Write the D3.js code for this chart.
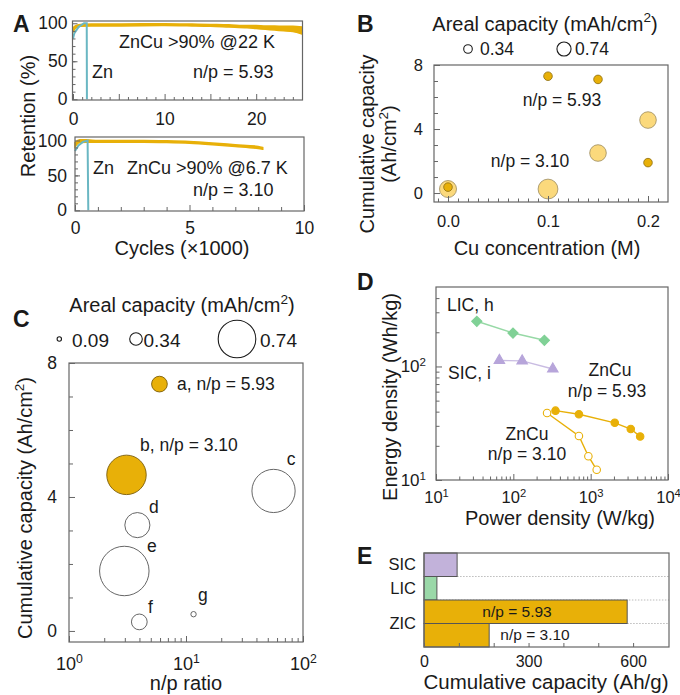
<!DOCTYPE html>
<html>
<head>
<meta charset="utf-8">
<script src="https://cdn.jsdelivr.net/npm/d3@7"></script>
<style>
  body { margin: 0; background: #fff; }
</style>
</head>
<body>
<script>
// ---------- data ----------
// A, top (n/p = 5.93): cycles in thousands, retention in %
const aTopZnCuCycles = [0, 0.3, 0.8, 2, 5, 10, 13, 15, 17, 19, 20, 21, 22, 23, 24, 25];
const aTopZnCuHigh   = [94, 97, 98.5, 99, 99, 99.5, 99, 98.5, 98, 97, 97, 96.5, 96.5, 96, 96, 95];
const aTopZnCuLow    = [88, 94, 96, 96.5, 96.5, 97, 96.5, 96, 95, 94, 93, 92, 91, 90, 89, 86];
const aTopZnCycles   = [0, 0.15, 0.6, 1.2, 1.5, 1.52];
const aTopZnRet      = [80, 87, 95, 100, 100, 0];
// A, bottom (n/p = 3.10)
const aBotZnCuCycles = [0, 0.2, 0.5, 1, 2, 3, 4, 5, 6, 7, 8, 8.2];
const aBotZnCuHigh   = [97, 101, 101, 100, 100, 100, 99.5, 98.5, 96.5, 94, 91.5, 90];
const aBotZnCuLow    = [91, 97, 97.5, 97.5, 97.5, 97.5, 97, 96, 94, 91.5, 88.5, 87.5];
const aBotZnCycles   = [0, 0.15, 0.35, 0.55, 0.58];
const aBotZnRet      = [85, 93, 98, 100, 0];

// B: Cu concentration (M), cumulative capacity (Ah/cm2), areal capacity (mAh/cm2)
const bConc   = [0, 0.1, 0.15, 0.2, 0, 0.1, 0.15, 0.2];
const bCum    = [0.25, 0.25, 2.5, 4.56, 0.37, 7.3, 7.1, 1.9];
const bAreal  = [0.76, 0.9, 0.74, 0.74, 0.34, 0.34, 0.34, 0.34];
const bGroup  = ["3.10", "3.10", "3.10", "3.10", "5.93", "5.93", "5.93", "5.93"];
const bLegend = [0.34, 0.74];

// C: n/p ratio, cumulative capacity, areal capacity
const cNp     = [5.93, 3.10, 56, 3.84, 2.97, 3.99, 11.6];
const cCum    = [7.37, 4.66, 4.18, 3.16, 1.79, 0.27, 0.5];
const cAreal  = [0.39, 0.77, 0.83, 0.54, 0.93, 0.39, 0.12];
const cFilled = [true, true, false, false, false, false, false];
const cLegend = [0.09, 0.34, 0.74];

// D: Ragone plot, power (W/kg) vs energy (Wh/kg)
const licPower = [33.7, 99, 252];
const licEnergy = [250, 197, 170];
const sicPower = [66, 130, 324];
const sicEnergy = [113, 112, 95];
const zn593Power = [351, 705, 2050, 3300, 4365];
const zn593Energy = [40.8, 37.9, 31.9, 28.1, 24.2];
const zn310Power = [273, 705, 934, 1197];
const zn310Energy = [38.9, 24.4, 16.2, 12.3];

// E: cumulative capacity (Ah/g)
const eBars = ["SIC", "LIC", "ZIC 5.93", "ZIC 3.10"];
const eValues = [95, 37, 583, 187];
const eTickLabels = ["SIC", "LIC", "ZIC"];

// ---------- setup ----------
const FONT = '"Liberation Sans", Arial, Helvetica, sans-serif';
const INK = "#1a1a1a";
const GOLD = "#e8b008";
const LIGHTGOLD = "#fbd97c";

const svg = d3.select("body").append("svg")
    .attr("width", 680)
    .attr("height", 695)
    .style("font-family", FONT);
svg.append("rect").attr("width", 680).attr("height", 695).attr("fill", "#fff");

// text with ^x superscripts
function txt(x, y, s, o = {}) {
    const fs = o.fs || 18;
    const t = svg.append("text")
        .attr("x", x).attr("y", y)
        .attr("font-size", fs)
        .attr("fill", INK)
        .attr("text-anchor", o.anchor || "start")
        .attr("font-weight", o.bold ? "bold" : null);
    if (o.rot) t.attr("transform", `rotate(-90,${x},${y})`);
    let shift = 0;
    s.split(/(\^\w)/).forEach(p => {
        if (!p) return;
        if (p.startsWith("^")) {
            t.append("tspan").attr("dy", -0.42 * fs).attr("font-size", fs * 0.68).text(p.slice(1));
            shift = 0.42 * fs;
        } else {
            t.append("tspan").attr("dy", shift || null).text(p);
            shift = 0;
        }
    });
    return t;
}

function frame(x0, y0, x1, y1) {
    svg.append("rect")
        .attr("x", x0).attr("y", y0)
        .attr("width", x1 - x0).attr("height", y1 - y0)
        .attr("fill", "none").attr("stroke", "#666").attr("stroke-width", 1.2);
}

// inward ticks
function ticks(axisFn, scale, values, len, fmt, pad, tx, ty, fs) {
    const ax = axisFn(scale)
        .tickValues(values)
        .tickSizeInner(-len)
        .tickSizeOuter(0)
        .tickPadding(pad)
        .tickFormat(fmt || (() => ""));
    const g = svg.append("g").attr("transform", `translate(${tx},${ty})`).call(ax);
    g.select(".domain").remove();
    g.selectAll("line").attr("stroke", "#666");
    if (fmt) {
        g.selectAll("text").attr("font-size", fs || 16).attr("fill", INK).attr("font-family", FONT);
    } else {
        g.selectAll("text").remove();
    }
    return g;
}

function supTicks(g) {
    g.selectAll(".tick text").each(function (d) {
        const t = d3.select(this).text("");
        t.append("tspan").text("10");
        t.append("tspan").attr("dy", "-0.55em").attr("font-size", "0.68em").text(Math.round(Math.log10(d)));
    });
}

const range = (a, b, s) => d3.range(a, b + s / 2, s);

// ---------- panel A ----------
function drawRetention(x, y, box, zn, znCu) {
    const area = d3.area()
        .x((d, i) => x(znCu.c[i]))
        .y0((d, i) => y(znCu.lo[i]))
        .y1((d, i) => y(znCu.hi[i]))
        .curve(d3.curveMonotoneX);
    svg.append("path").datum(znCu.c).attr("d", area)
        .attr("fill", GOLD).attr("stroke", GOLD).attr("stroke-width", 1.5);
    const line = d3.line()
        .x((d, i) => x(zn.c[i]))
        .y((d, i) => y(zn.r[i]));
    svg.append("path").datum(zn.c).attr("d", line)
        .attr("fill", "none").attr("stroke", "#6ab7c3").attr("stroke-width", 2);
    frame(box[0], box[1], box[2], box[3]);
}

const xA1 = d3.scaleLinear([0, 25], [73, 302]);
const yA1 = d3.scaleLinear([-1, 103], [100, 21]);
drawRetention(xA1, yA1, [72.5, 21, 302.5, 100],
    { c: aTopZnCycles, r: aTopZnRet },
    { c: aTopZnCuCycles, hi: aTopZnCuHigh, lo: aTopZnCuLow });
ticks(d3.axisLeft, yA1, [0, 50, 100], 5, d3.format("d"), 5, 72.5, 0, 17.5);
ticks(d3.axisLeft, yA1, range(10, 90, 10), 3, null, 0, 72.5, 0);
ticks(d3.axisBottom, xA1, [0, 10, 20], 6, d3.format("d"), 13, 0, 100, 17.5);
ticks(d3.axisBottom, xA1, [5, 15], 6, null, 0, 0, 100);
ticks(d3.axisBottom, xA1, range(1, 24, 1).filter(v => v % 5), 3, null, 0, 0, 100);

const xA2 = d3.scaleLinear([0, 10], [75, 304]);
const yA2 = d3.scaleLinear([-1, 105], [211, 137]);
drawRetention(xA2, yA2, [75, 137, 304, 211],
    { c: aBotZnCycles, r: aBotZnRet },
    { c: aBotZnCuCycles, hi: aBotZnCuHigh, lo: aBotZnCuLow });
ticks(d3.axisLeft, yA2, [0, 50, 100], 5, d3.format("d"), 8, 75, 0, 17.5);
ticks(d3.axisLeft, yA2, range(10, 90, 10), 3, null, 0, 75, 0);
ticks(d3.axisBottom, xA2, [0, 5, 10], 6, d3.format("d"), 11, 0, 211, 17.5);
ticks(d3.axisBottom, xA2, [1, 2, 3, 4, 6, 7, 8, 9], 4, null, 0, 0, 211);

txt(13, 32, "A", { fs: 23, bold: true });
txt(197, 48, "ZnCu >90% @22 K", { anchor: "middle" });
txt(92, 78, "Zn");
txt(193, 78, "n/p = 5.93");
txt(93, 174, "Zn");
txt(127, 174, "ZnCu >90% @6.7 K");
txt(193, 196, "n/p = 3.10");
txt(35, 116, "Retention (%)", { fs: 20, anchor: "middle", rot: true });
txt(182, 255, "Cycles (\u00d71000)", { fs: 20, anchor: "middle" });

// ---------- panel B ----------
const xB = d3.scaleLinear([-0.014, 0.22], [434, 668]);
const yB = d3.scaleLinear([-0.56, 8], [202, 65]);
const rB = d3.scaleLinear([0.34, 0.74], [4.3, 8.3]);

const bIdx = d3.range(bConc.length);
svg.append("g").selectAll("circle")
    .data(bIdx.filter(i => bGroup[i] === "3.10").concat(bIdx.filter(i => bGroup[i] === "5.93")))
    .join("circle")
    .attr("cx", i => xB(bConc[i]))
    .attr("cy", i => yB(bCum[i]))
    .attr("r", i => rB(bAreal[i]))
    .attr("fill", i => bGroup[i] === "5.93" ? GOLD : LIGHTGOLD)
    .attr("stroke", i => bGroup[i] === "5.93" ? "#8c6d12" : "#9c8a5c")
    .attr("stroke-width", 0.8);
frame(434, 65, 668, 202);
ticks(d3.axisLeft, yB, [0, 4, 8], 6, d3.format("d"), 11, 434, 0, 16.5);
ticks(d3.axisLeft, yB, [1, 2, 3, 5, 6, 7], 4, null, 0, 434, 0);
ticks(d3.axisBottom, xB, [0, 0.1, 0.2], 6, d3.format(".1f"), 13.5, 0, 202, 16.5);
ticks(d3.axisBottom, xB, range(-0.01, 0.21, 0.01).filter(v => Math.abs(v * 10 - Math.round(v * 10)) > 1e-6), 3.5, null, 0, 0, 202);

txt(357, 32, "B", { fs: 23, bold: true });
txt(545, 30.5, "Areal capacity (mAh/cm^2)", { fs: 20, anchor: "middle" });
const bLegX = [468, 564];
const bLegTx = [480, 575];
bLegend.forEach((v, i) => {
    svg.append("circle").attr("cx", bLegX[i]).attr("cy", 49).attr("r", rB(v) * (i ? 0.85 : 1))
        .attr("fill", "none").attr("stroke", INK).attr("stroke-width", 1.1);
    txt(bLegTx[i], 55, v.toFixed(2), { fs: 17.5 });
});
txt(562, 106, "n/p = 5.93", { fs: 17.5, anchor: "middle" });
txt(530, 166.5, "n/p = 3.10", { fs: 17.5, anchor: "middle" });
txt(374, 144, "Cumulative capacity", { fs: 20, anchor: "middle", rot: true });
txt(396, 144, "(Ah/cm^2)", { fs: 20, anchor: "middle", rot: true });
txt(547, 255, "Cu concentration (M)", { fs: 20, anchor: "middle" });

// ---------- panel C ----------
const xC = d3.scaleLog([1, 100], [69, 303]);
const yC = d3.scaleLinear([-0.33, 8], [642, 363]);
const rC = d3.scaleLinear([0.09, 0.34, 0.74], [2.2, 6.3, 18.8]);

svg.append("g").selectAll("circle")
    .data(d3.range(cNp.length))
    .join("circle")
    .attr("cx", i => xC(cNp[i]))
    .attr("cy", i => yC(cCum[i]))
    .attr("r", i => rC(cAreal[i]))
    .attr("fill", i => cFilled[i] ? GOLD : "none")
    .attr("stroke", i => cFilled[i] ? "#7a5c08" : "#555")
    .attr("stroke-width", 0.9);
frame(69, 363, 303, 642);
ticks(d3.axisLeft, yC, [0, 4, 8], 6, d3.format("d"), 12, 69, 0, 17.5);
ticks(d3.axisLeft, yC, [1, 2, 3, 5, 6, 7], 4, null, 0, 69, 0);
supTicks(ticks(d3.axisBottom, xC, [1, 10, 100], 6, () => "x", 15, 0, 642, 18));
ticks(d3.axisBottom, xC, [2, 3, 4, 5, 6, 7, 8, 9, 20, 30, 40, 50, 60, 70, 80, 90], 4, null, 0, 0, 642);

txt(13, 327, "C", { fs: 23, bold: true });
txt(182, 312, "Areal capacity (mAh/cm^2)", { fs: 20, anchor: "middle" });
const cLegX = [59.3, 136, 237];
const cLegTx = [72, 143.5, 260];
cLegend.forEach((v, i) => {
    svg.append("circle").attr("cx", cLegX[i]).attr("cy", 339).attr("r", rC(v))
        .attr("fill", "none").attr("stroke", INK).attr("stroke-width", 1.1);
    txt(cLegTx[i], 347, v.toFixed(2), { fs: 19 });
});
txt(177, 390, "a, n/p = 5.93", { fs: 17.5 });
txt(140, 451, "b, n/p = 3.10", { fs: 17.5 });
txt(291, 465, "c", { fs: 17.5, anchor: "middle" });
txt(149, 513, "d", { fs: 17.5 });
txt(147, 552, "e", { fs: 17.5 });
txt(148, 613, "f", { fs: 17.5 });
txt(198, 601, "g", { fs: 17.5 });
txt(32, 508, "Cumulative capacity (Ah/cm^2)", { fs: 20, anchor: "middle", rot: true });
txt(186, 690, "n/p ratio", { fs: 20, anchor: "middle" });

// ---------- panel D ----------
const xD = d3.scaleLog([10, 1e4], [436, 668]);
const yD = d3.scaleLog([10, 501], [480, 287]);

function series(px, py, lineColor, sym, fill, stroke) {
    const pts = px.map((p, i) => [xD(p), yD(py[i])]);
    svg.append("path").attr("d", d3.line()(pts))
        .attr("fill", "none").attr("stroke", lineColor).attr("stroke-width", 1.4);
    svg.append("g").selectAll("path").data(pts).join("path")
        .attr("transform", d => `translate(${d[0]},${d[1]})${sym.rot ? " rotate(45)" : ""}`)
        .attr("d", d3.symbol(sym.type, sym.size))
        .attr("fill", fill).attr("stroke", stroke).attr("stroke-width", 1.1);
}
series(licPower, licEnergy, "#97d9a6", { type: d3.symbolSquare, size: 52, rot: true }, "#80d196", "#80d196");
series(sicPower, sicEnergy, "#c9bce2", { type: d3.symbolTriangle, size: 48 }, "#b7a5da", "#b7a5da");
series(zn593Power, zn593Energy, GOLD, { type: d3.symbolCircle, size: 44 }, GOLD, GOLD);
series(zn310Power, zn310Energy, GOLD, { type: d3.symbolCircle, size: 44 }, "#fff", GOLD);
frame(436, 287, 668, 480);
supTicks(ticks(d3.axisLeft, yD, [10, 100], 6, () => "x", 10, 436, 0, 17));
ticks(d3.axisLeft, yD, [20, 30, 40, 50, 60, 70, 80, 90, 200, 300, 400], 3.5, null, 0, 436, 0);
supTicks(ticks(d3.axisBottom, xD, [10, 100, 1000, 10000], 6, () => "x", 11, 0, 480, 16.5));
ticks(d3.axisBottom, xD, [2, 3, 4, 5, 6, 7, 8, 9].flatMap(v => [v * 10, v * 100, v * 1000]), 3.5, null, 0, 0, 480);

txt(357, 290, "D", { fs: 23, bold: true });
txt(447, 310.5, "LIC, h", { fs: 17.5 });
txt(448, 379, "SIC, i", { fs: 17.5 });
txt(610, 376, "ZnCu", { fs: 17.5, anchor: "middle" });
txt(607, 397, "n/p = 5.93", { fs: 17.5, anchor: "middle" });
txt(527, 440, "ZnCu", { fs: 17.5, anchor: "middle" });
txt(527, 460, "n/p = 3.10", { fs: 17.5, anchor: "middle" });
txt(397, 397, "Energy density (Wh/kg)", { fs: 20, anchor: "middle", rot: true });
txt(560, 525, "Power density (W/kg)", { fs: 20, anchor: "middle" });

// ---------- panel E ----------
const xE = d3.scaleLinear([0, 703], [424, 669]);
const yE = d3.scaleBand(eBars, [553, 647]);
const eFill = ["#c2b2da", "#9ad8a8", GOLD, GOLD];

eBars.slice(0, 3).forEach((b, i) => {
    svg.append("line")
        .attr("x1", xE(eValues[i])).attr("x2", 669)
        .attr("y1", yE(b) + yE.bandwidth()).attr("y2", yE(b) + yE.bandwidth())
        .attr("stroke", "#bbb").attr("stroke-width", 1).attr("stroke-dasharray", "1.5,1.5");
});
svg.append("g").selectAll("rect").data(eBars).join("rect")
    .attr("x", xE(0))
    .attr("y", d => yE(d))
    .attr("width", (d, i) => xE(eValues[i]) - xE(0))
    .attr("height", yE.bandwidth())
    .attr("fill", (d, i) => eFill[i])
    .attr("stroke", "#555").attr("stroke-width", 1);
frame(424, 553, 669, 647);
ticks(d3.axisBottom, xE, [0, 300, 600], 4, d3.format("d"), 9, 0, 647, 16);
ticks(d3.axisBottom, xE, [100, 200, 400, 500], 4, null, 0, 0, 647);

const eLabY = [yE("SIC") + yE.bandwidth() / 2, yE("LIC") + yE.bandwidth() / 2, yE("ZIC 3.10")];
eTickLabels.forEach((l, i) => txt(416, eLabY[i] + 5.5, l, { fs: 16.5, anchor: "end" }));
txt(517, 617, "n/p = 5.93", { fs: 15.5, anchor: "middle" });
txt(535, 639.5, "n/p = 3.10", { fs: 15.5, anchor: "middle" });

txt(357, 564, "E", { fs: 23, bold: true });
txt(546, 689, "Cumulative capacity (Ah/g)", { fs: 20.5, anchor: "middle" });
</script>
</body>
</html>
